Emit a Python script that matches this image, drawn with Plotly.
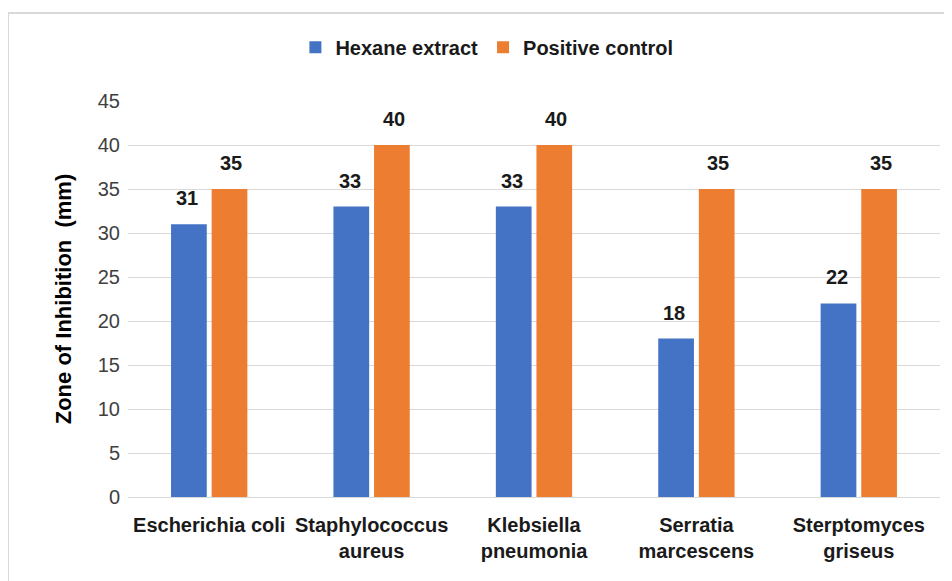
import plotly.graph_objects as go

categories = ["Escherichia coli", "Staphylococcus<br>aureus", "Klebsiella<br>pneumonia",
              "Serratia<br>marcescens", "Sterptomyces<br>griseus"]
hexane = [31, 33, 33, 18, 22]
positive = [35, 40, 40, 35, 35]
series_names = ["Hexane extract", "Positive control"]
colors = ["#4472C4", "#ED7D31"]
y_ticks = [0, 5, 10, 15, 20, 25, 30, 35, 40, 45]

REG = "'Liberation Sans', Arial, sans-serif"

fig = go.Figure()
for name, vals, col in zip(series_names, [hexane, positive], colors):
    fig.add_trace(go.Bar(x=categories, y=vals, name=f"<b>{name}</b>", marker_color=col,
                         marker_line_width=0))

annotations = []
for vals, shift in [(hexane, -22), (positive, 22)]:
    for c, v in zip(categories, vals):
        annotations.append(dict(x=c, y=v, text=f"<b>{v}</b>", showarrow=False,
                                xshift=shift, yshift=13, yanchor="bottom",
                                font=dict(family=REG, size=20, color="#1a1a1a")))

fig.update_layout(
    width=952, height=581,
    margin=dict(l=120, r=20, t=93, b=92, autoexpand=False),
    paper_bgcolor="white", plot_bgcolor="white",
    barmode="group", bargap=0.5, bargroupgap=0.12,
    font=dict(family=REG, color="#1a1a1a"),
    legend=dict(orientation="h", x=0.442, xanchor="center", y=1.136, yanchor="middle",
                font=dict(family=REG, size=20, color="#1a1a1a"),
                traceorder="normal"),
    annotations=annotations,
    yaxis=dict(range=[0, 45], tickvals=y_ticks, showgrid=True, gridcolor="#d9d9d9",
               gridwidth=1, zeroline=False, showline=False, ticks="outside",
               ticklen=3, tickcolor="rgba(0,0,0,0)",
               tickfont=dict(family=REG, size=20, color="#404040"),
               title=dict(text="<b>Zone of Inhibition  (mm)</b>",
                          font=dict(family=REG, size=22, color="#000000"), standoff=20)),
    xaxis=dict(showline=True, linecolor="#d9d9d9", linewidth=1, ticks="outside",
               ticklen=10, tickcolor="rgba(0,0,0,0)", tickangle=0,
               tickfont=dict(family=REG, size=20, color="#1a1a1a"),
               tickprefix="<b>", ticksuffix="</b>"),
    shapes=[dict(type="rect", xref="paper", yref="paper",
                 x0=-120 / 812, x1=1.2, y0=-0.3, y1=1 + 88 / 396,
                 line=dict(color="#d9d9d9", width=2), layer="below")],
)
fig.write_html("out.html")
